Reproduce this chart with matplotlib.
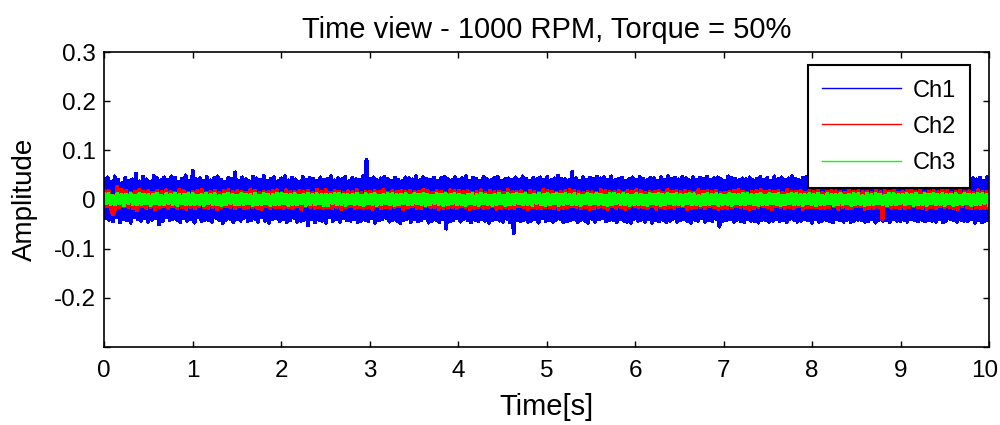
## Time view of three vibration channels, 1000 RPM / 50% torque
# plot.py
import numpy as np
import matplotlib
matplotlib.use('Agg')
import matplotlib.pyplot as plt
import matplotlib.transforms as mtransforms

plt.rcParams['font.family'] = ['Liberation Sans', 'DejaVu Sans']
plt.rcParams['path.simplify'] = False

duration = 10.0   # seconds

# samples, in units of 1e-3
ch1_milli = [
	42,-38,45,-41,36,-44,47,-35,40,-46,33,-39,44,-42,38,-47,41,-36,52,-40,
	37,-43,46,-38,41,-45,35,-41,48,-37,43,-50,39,-44,45,-36,40,-42,47,-39,
	44,-41,36,-46,42,-38,49,-43,37,-40,58,-47,41,-35,43,-44,38,-41,46,-42,
	39,-45,43,-37,47,-42,40,-48,36,-41,44,-39,42,-46,55,-40,38,-43,45,-37,
	41,-44,37,-42,46,-39,43,-45,40,-36,48,-43,38,-47,42,-40,45,-38,37,-44,
	43,-40,47,-46,39,-42,44,-37,41,-45,36,-43,46,-41,40,-52,44,-39,42,-46,
	38,-41,45,-43,40,-47,42,-36,47,-44,39,-40,43,-45,41,-38,46,-42,37,-43,
	44,-39,41,-46,40,-43,47,-41,80,-44,42,-38,45,-47,39,-42,43,-40,46,-37,
	42,-45,38,-41,44,-43,40,-48,37,-42,45,-39,43,-46,41,-40,47,-44,39,-42,
	45,-38,42,-47,40,-43,44,-41,38,-46,43,-40,46,-59,41,-44,39,-42,45,-38,
	40,-45,43,-39,47,-42,38,-46,44,-41,42,-44,37,-40,46,-43,41,-47,39,-42,
	44,-40,46,-43,38,-45,41,-39,43,-46,40,-69,45,-42,39,-44,47,-41,42,-45,
	38,-43,44,-40,41,-47,45,-38,40,-44,46,-42,39,-45,43,-41,48,-39,42,-46,
	41,-44,39,-42,56,-40,43,-46,38,-41,45,-43,40,-47,44,-39,42,-45,46,-40,
	43,-38,45,-44,40,-42,47,-41,39,-46,42,-40,44,-43,38,-45,41,-47,45,-39,
	40,-43,46,-41,42,-45,39,-40,44,-47,43,-42,38,-44,45,-41,40,-46,47,-43,
	42,-39,44,-45,41,-42,46,-40,43,-44,39,-47,45,-41,40,-43,44,-38,42,-45,
	46,-42,40,-44,43,-39,45,-55,41,-43,38,-42,47,-40,44,-45,42,-41,39,-44,
	43,-46,41,-40,45,-43,39,-44,42,-47,46,-41,40,-42,44,-45,38,-43,47,-40,
	41,-44,45,-42,40,-46,43,-39,47,-41,42,-45,39,-43,44,-40,46,-42,41,-47,
	44,-40,42,-45,39,-43,57,-41,40,-44,43,-46,41,-39,45,-42,38,-45,44,-41,
	42,-46,40,-43,47,-41,44,-42,39,-45,41,-44,46,-40,43,-47,42,-41,45,-43,
	39,-42,44,-46,41,-40,45,-43,42,-44,38,-41,47,-45,43,-40,46,-42,40,-44,
	45,-41,43,-44,40,-42,46,-43,39,-45,44,-40,42,-46,41,-43,54,-39,44,-42,
	40,-45,42,-41,46,-43,39,-44,45,-40,43,-47,41,-42,44,-46,38,-43,45,-41,
]
ch2_milli = [
	16,-14,18,-17,-30,-19,25,-16,20,-13,17,-15,14,-18,16,-22,19,-14,15,-17,
	18,-15,14,-19,17,-16,15,-13,19,-18,16,-14,13,-17,20,-15,17,-19,14,-16,
	15,-18,17,-14,19,-16,13,-17,16,-15,18,-20,14,-16,17,-13,19,-15,16,-18,
	17,-13,15,-18,14,-16,20,-15,18,-17,13,-19,16,-14,15,-18,17,-16,19,-15,
	14,-17,19,-15,16,-18,15,-14,17,-19,16,-13,18,-15,14,-17,20,-16,15,-18,
	19,-16,14,-17,18,-15,16,-19,13,-16,17,-14,15,-18,19,-16,14,-17,16,-15,
	16,-19,17,-14,15,-18,19,-16,14,-17,18,-15,16,-13,17,-19,15,-16,18,-14,
	15,-17,16,-18,19,-14,17,-15,13,-16,18,-19,15,-17,14,-16,19,-15,17,-18,
	18,-14,15,-16,17,-19,14,-18,16,-15,19,-17,13,-16,18,-14,15,-19,16,-17,
	14,-16,19,-17,15,-18,16,-14,17,-15,13,-19,18,-16,15,-17,14,-18,19,-16,
	17,-15,16,-18,14,-19,15,-17,18,-16,19,-14,17,-15,16,-18,13,-16,15,-19,
	15,-18,14,-16,19,-15,17,-19,16,-14,15,-17,18,-16,14,-19,17,-15,16,-13,
	19,-16,17,-15,13,-18,16,-14,15,-19,17,-16,14,-18,19,-15,16,-17,18,-14,
	16,-14,18,-19,15,-17,14,-16,19,-15,16,-18,17,-14,15,-16,18,-19,13,-17,
	14,-17,15,-16,18,-14,19,-15,16,-17,14,-19,15,-18,17,-16,19,-14,16,-15,
	18,-19,16,-14,17,-15,13,-18,19,-16,15,-17,16,-14,18,-19,14,-16,17,-15,
	15,-16,19,-18,14,-17,16,-15,18,-14,17,-19,15,-16,14,-18,19,-17,16,-14,
	17,-14,15,-19,16,-18,14,-17,19,-15,16,-40,18,-14,15,-17,19,-16,14,-18,
	16,-18,17,-15,19,-14,15,-16,18,-17,14,-19,16,-15,17,-18,15,-14,19,-16,
	19,-15,14,-17,16,-19,18,-14,15,-16,17,-18,14,-15,19,-17,16,-18,15,-16,
]
ch3_milli = [
	10,-8,11,-9,7,-10,12,-8,9,-11,10,-7,11,-9,8,-10,12,-9,10,-8,
	9,-11,10,-8,12,-9,8,-10,11,-7,10,-9,12,-11,9,-8,10,-10,11,-9,
	11,-9,8,-10,10,-11,12,-8,9,-9,11,-10,8,-11,10,-9,12,-8,9,-10,
	8,-10,11,-9,10,-8,9,-11,12,-10,8,-9,11,-8,10,-11,9,-10,12,-9,
	12,-8,10,-11,9,-9,11,-10,8,-8,10,-11,12,-9,9,-10,11,-8,10,-11,
	10,-11,9,-8,11,-10,12,-9,10,-11,9,-8,10,-10,12,-9,8,-11,11,-8,
	9,-10,12,-11,8,-9,10,-8,11,-10,12,-11,9,-9,10,-8,11,-10,8,-9,
	11,-8,10,-9,12,-11,9,-10,8,-8,11,-9,10,-11,12,-10,9,-8,11,-10,
	10,-9,8,-11,10,-8,11,-10,9,-11,12,-8,10,-9,8,-11,10,-10,12,-8,
	8,-11,11,-10,9,-9,12,-8,10,-10,11,-9,8,-11,10,-8,12,-10,9,-11,
	12,-10,9,-8,11,-11,10,-9,12,-8,9,-10,11,-9,10,-11,8,-8,12,-10,
	9,-8,12,-10,10,-9,8,-11,11,-10,12,-8,9,-9,11,-10,10,-11,8,-9,
	11,-10,10,-9,8,-11,12,-8,10,-9,11,-11,9,-10,12,-8,10,-9,11,-10,
	10,-11,9,-8,12,-10,11,-9,8,-11,10,-10,12,-9,9,-8,11,-11,10,-9,
	8,-9,11,-11,10,-8,9,-10,12,-9,11,-8,10,-10,9,-11,12,-9,8,-10,
	12,-8,10,-9,11,-11,8,-10,9,-8,12,-10,11,-9,10,-11,9,-8,11,-10,
	9,-11,12,-10,8,-9,11,-8,10,-11,9,-10,12,-9,8,-8,10,-11,11,-9,
	11,-9,8,-11,12,-10,9,-9,11,-8,10,-10,8,-11,12,-9,11,-10,9,-8,
	10,-10,11,-8,9,-11,12,-10,8,-9,11,-11,10,-8,12,-10,9,-9,11,-11,
	9,-8,10,-11,11,-9,8,-10,12,-8,10,-11,9,-10,11,-9,12,-8,10,-10,
]

channel_names = ['Ch1', 'Ch2', 'Ch3']
channel_colors = ['#0000ff', '#ff0000', '#00ff00']

ytick_vals = [-0.3, -0.2, -0.1, 0, 0.1, 0.2, 0.3]
ytick_labels = ['', '-0.2', '-0.1', '0', '0.1', '0.2', '0.3']
xtick_vals = list(range(0, 11))

fig = plt.figure(figsize=(10, 4.25), dpi=100)
ax = fig.add_axes([0.104, 0.1835, 0.885, 0.694])

for data, name, col in zip([ch1_milli, ch2_milli, ch3_milli], channel_names, channel_colors):
	sig = np.array(data) / 1000.0
	t = np.linspace(0, duration, len(sig))
	ax.plot(t, sig, '-', color=col, linewidth=2.2, label=name, antialiased=False)

ax.set_xlim(0, 10)
ax.set_ylim(-0.3, 0.3)
ax.set_xticks(xtick_vals)
ax.set_xticklabels([str(x) for x in xtick_vals], fontsize=17.5)
ax.set_yticks(ytick_vals)
ax.set_yticklabels(ytick_labels, fontsize=17.5)
ax.tick_params(direction='in', length=4, width=1, top=True, right=True, pad=6)
ax.tick_params(axis='x', pad=9)
for sp in ax.spines.values():
	sp.set_linewidth(1.2)

# last x label sits against the right edge, nudge it in a bit
lastlab = ax.get_xticklabels()[-1]
lastlab.set_transform(lastlab.get_transform() + mtransforms.ScaledTranslation(-3/72., 0, fig.dpi_scale_trans))

ax.set_title('Time view - 1000 RPM, Torque = 50%', fontsize=21, pad=10)
ax.set_xlabel('Time[s]', fontsize=21, labelpad=8)
ax.set_ylabel('Amplitude', fontsize=20, labelpad=11)

leg = ax.legend(loc='upper right', bbox_to_anchor=(0.979, 0.955), fontsize=17,
	handlelength=3.35, fancybox=False, framealpha=1, edgecolor='black',
	borderpad=0.6, labelspacing=0.6, handletextpad=0.5, borderaxespad=0)
leg.get_frame().set_linewidth(1.5)
for ln in leg.get_lines():
	ln.set_linewidth(1.0)
	ln.set_antialiased(True)

fig.savefig('out.png', dpi=100)
